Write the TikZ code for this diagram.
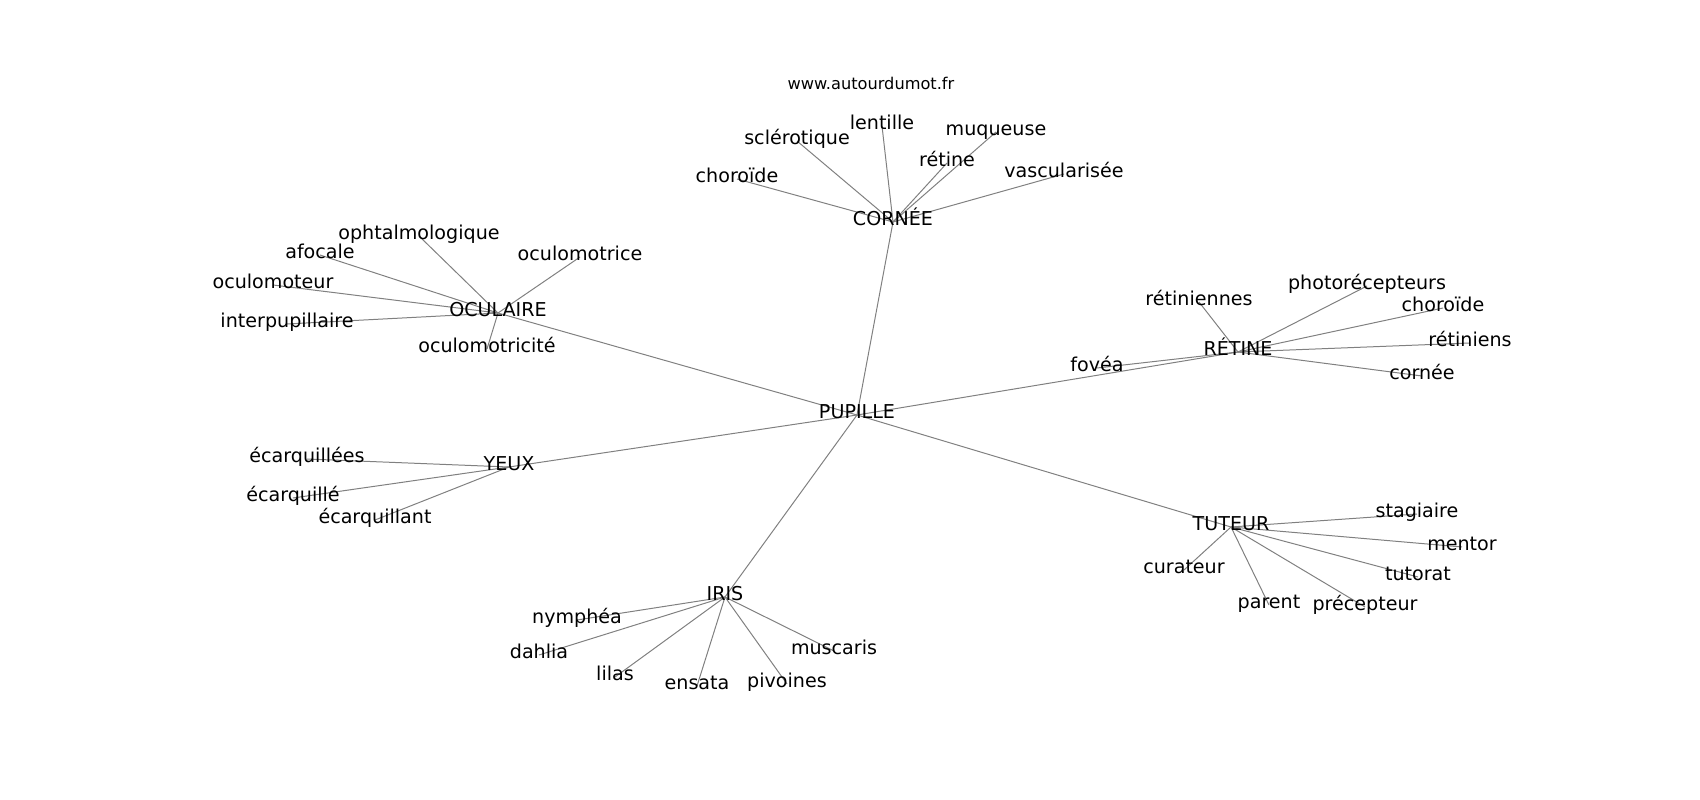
\documentclass[tikz,border=0pt]{standalone}
\usepackage{fontspec}
\setmainfont{DejaVu Sans}
\usepackage{tikz}
\usetikzlibrary{backgrounds}

\tikzset{
  word/.style={inner sep=0pt,text height=0.76em,text depth=0.22em,
    font=\fontsize{13.8}{16}\selectfont},
  link/.style={draw=gray,line width=0.72pt}
}

\begin{document}
\begin{tikzpicture}[x=0.01in,y=-0.01in]
  % frame of the figure, 1700 x 800 px
  \useasboundingbox (0,0) rectangle (1700,800);

  % title
  \node[inner sep=0pt,font=\fontsize{11.7}{14}\selectfont] (site) at (871,83) {www.autourdumot.fr};

  % centre word
  \node[word] (pupille) at (857,415) {PUPILLE};

  % cornee branch
  \node[word] (cornee) at (893,222) {CORNÉE};
  \node[word] (sclerotique) at (797,141) {sclérotique};
  \node[word] (choroideA) at (737,179) {choroïde};
  \node[word] (lentille) at (882,126) {lentille};
  \node[word] (retineA) at (947,163) {rétine};
  \node[word] (muqueuse) at (996,132) {muqueuse};
  \node[word] (vascularisee) at (1064,174) {vascularisée};

  % oculaire branch
  \node[word] (oculaire) at (498,313) {OCULAIRE};
  \node[word] (ophtalmo) at (419,236) {ophtalmologique};
  \node[word] (afocale) at (320,255) {afocale};
  \node[word] (oculomotrice) at (580,257) {oculomotrice};
  \node[word] (oculomoteur) at (273,285) {oculomoteur};
  \node[word] (interpup) at (287,324) {interpupillaire};
  \node[word] (oculomotricite) at (487,349) {oculomotricité};

  % retine branch
  \node[word] (retine) at (1238,352) {RÉTINE};
  \node[word] (retiniennes) at (1199,302) {rétiniennes};
  \node[word] (photorecep) at (1367,286) {photorécepteurs};
  \node[word] (choroideB) at (1443,308) {choroïde};
  \node[word] (retiniens) at (1470,343) {rétiniens};
  \node[word] (corneeB) at (1422,376) {cornée};
  \node[word] (fovea) at (1097,368) {fovéa};

  % yeux branch
  \node[word] (yeux) at (509,467) {YEUX};
  \node[word] (ecarquillees) at (307,459) {écarquillées};
  \node[word] (ecarquille) at (293,498) {écarquillé};
  \node[word] (ecarquillant) at (375,520) {écarquillant};

  % iris branch
  \node[word] (iris) at (725,597) {IRIS};
  \node[word] (nymphea) at (577,620) {nymphéa};
  \node[word] (dahlia) at (539,655) {dahlia};
  \node[word] (lilas) at (615,677) {lilas};
  \node[word] (ensata) at (697,686) {ensata};
  \node[word] (pivoines) at (787,684) {pivoines};
  \node[word] (muscaris) at (834,651) {muscaris};

  % tuteur branch
  \node[word] (tuteur) at (1231,527) {TUTEUR};
  \node[word] (stagiaire) at (1417,514) {stagiaire};
  \node[word] (mentor) at (1462,547) {mentor};
  \node[word] (curateur) at (1184,570) {curateur};
  \node[word] (tutorat) at (1418,577) {tutorat};
  \node[word] (parent) at (1269,605) {parent};
  \node[word] (precepteur) at (1365,607) {précepteur};

  % links, behind the words
  \begin{scope}[on background layer]
    \foreach \hub in {cornee,oculaire,retine,yeux,iris,tuteur}
      \draw[link] (pupille.center) -- (\hub.center);
    \foreach \leaf in {sclerotique,choroideA,lentille,retineA,muqueuse,vascularisee}
      \draw[link] (cornee.center) -- (\leaf.center);
    \foreach \leaf in {ophtalmo,afocale,oculomotrice,oculomoteur,interpup,oculomotricite}
      \draw[link] (oculaire.center) -- (\leaf.center);
    \foreach \leaf in {retiniennes,photorecep,choroideB,retiniens,corneeB,fovea}
      \draw[link] (retine.center) -- (\leaf.center);
    \foreach \leaf in {ecarquillees,ecarquille,ecarquillant}
      \draw[link] (yeux.center) -- (\leaf.center);
    \foreach \leaf in {nymphea,dahlia,lilas,ensata,pivoines,muscaris}
      \draw[link] (iris.center) -- (\leaf.center);
    \foreach \leaf in {stagiaire,mentor,curateur,tutorat,parent,precepteur}
      \draw[link] (tuteur.center) -- (\leaf.center);
  \end{scope}

\end{tikzpicture}
\end{document}
